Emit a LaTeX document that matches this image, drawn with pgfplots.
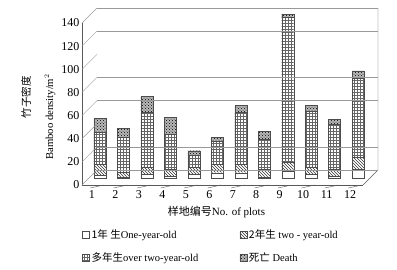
\documentclass[border=0pt]{standalone}
\usepackage{pgfplots}
\pgfplotsset{compat=1.18}
\usetikzlibrary{patterns}
\usepackage{fontspec}
\setmainfont{Liberation Serif}
\newfontfamily\cjk{Noto Sans CJK SC}
\pgfplotstableread{
x white hatch grid death
1  3   9   28  12
2  1.5 4   30  8
3  3.5 6.5 47  14
4  2   6   30  15
5  3.5 6   11  3.5
6  5   7   20  3.5
7  5   7   45  6
8  1.5 6.5 26  7
9  6   8   125 3
10 3.5 6.5 48  5
11 2   6   39  4
12 8   10  69  6
}\datatable
\begin{document}
\begin{tikzpicture}
\useasboundingbox (-82pt,-84pt) rectangle (315pt,185pt);
\begin{axis}[
  at={(0,0)}, anchor=south west,
  scale only axis,
  width=281pt, height=162pt,
  ybar stacked, bar width=12pt,
  xmin=0.574, xmax=12.55,
  ymin=0, ymax=140,
  clip=false,
  axis x line*=bottom, axis y line*=left,
  axis line style={-, black!65},
  xtick={1,...,12},
  ytick={0,20,...,140},
  xtick style={draw=none}, ytick style={draw=none},
  /pgf/number format/assume math mode=true,
  tick label style={font=\fontsize{12}{13}\selectfont},
  yticklabel style={xshift=1pt},
  xticklabel style={yshift=-2pt},
  xlabel={{\cjk 样地编号}No. of plots},
  xlabel style={font=\fontsize{11}{12}\selectfont, yshift=-1pt, xshift=-6pt},
  legend columns=2,
  legend style={at={(axis description cs:0.0,-0.262)}, anchor=north west, draw=none, fill=none,
    font=\fontsize{10.5}{11}\selectfont, inner sep=0pt,
    /tikz/every even column/.append style={column sep=0pt},
    row sep=8.5pt},
  legend cell align=left,
  legend image code/.code={\draw[#1, draw=black!70, xshift=-8pt, yshift=-6.5pt] (0pt,-3.5pt) rectangle (7pt,3.5pt);},
  every axis plot/.append style={xshift=8pt, yshift=6.5pt, draw=black!70, line width=0.4pt},
]
\pgfplotsinvokeforeach{0,20,60,80,120,140}{
  \draw[gray!80] ([shift={(15pt,15pt)}]axis cs:0.574,#1) -- ([shift={(15pt,15pt)}]axis cs:12.55,#1);
}
\pgfplotsinvokeforeach{0,20,...,140}{
  \draw[gray!80] (axis cs:0.574,#1) -- ([shift={(15pt,15pt)}]axis cs:0.574,#1);
}
\draw[black!65] (axis cs:12.55,0) -- ([shift={(15pt,15pt)}]axis cs:12.55,0)
   -- ([shift={(15pt,15pt)}]axis cs:12.55,140);
\pgfplotsinvokeforeach{1.5,2.5,...,12.5}{
  \draw[black!65] (axis cs:#1,0) -- ++(0,-3pt);
}
\addplot[fill=white] table[x=x, y=white] {\datatable};
\addplot[pattern=north west lines, pattern color=black!80] table[x=x, y=hatch] {\datatable};
\addplot[pattern=grid, pattern color=black!60] table[x=x, y=grid] {\datatable};
\addplot[fill=gray!55, postaction={pattern=crosshatch dots}] table[x=x, y=death] {\datatable};
\legend{\makebox[146pt][l]{{\cjk 1年 生}One-year-old}, {\cjk 2年生} two - year-old, \makebox[146pt][l]{{\cjk 多年生}over two-year-old}, {\cjk 死亡} Death}
\end{axis}
\node[rotate=90, font=\cjk\fontsize{10.5}{11}\selectfont] at (-56pt,88pt) {竹子密度};
\node[rotate=90, font=\fontsize{10.7}{11}\selectfont] at (-32pt,68pt) {Bamboo density/m$^2$};
\end{tikzpicture}
\end{document}
